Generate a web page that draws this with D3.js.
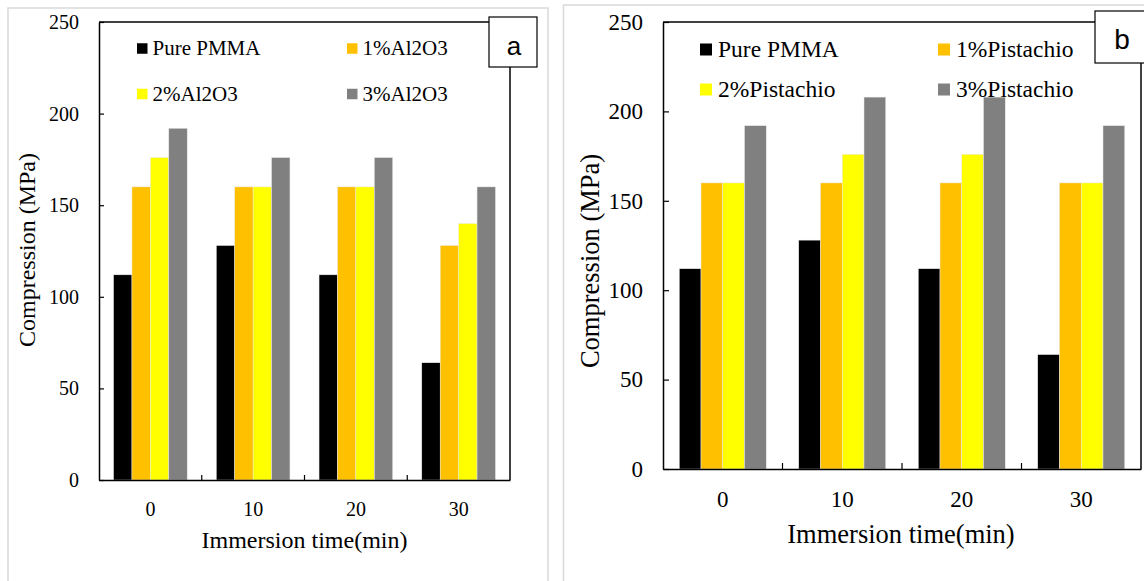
<!DOCTYPE html>
<html>
<head>
<meta charset="utf-8">
<script src="https://cdn.jsdelivr.net/npm/d3@7"></script>
<style>
  html, body { margin: 0; padding: 0; background: #ffffff; }
  svg { display: block; }
</style>
</head>
<body>
<svg id="chart" width="1144" height="581"></svg>
<script>
// ---------- data ----------
const categories = ["0", "10", "20", "30"];
const yTicks = [0, 50, 100, 150, 200, 250];
const seriesNamesA = ["Pure PMMA", "1%Al2O3", "2%Al2O3", "3%Al2O3"];
const seriesNamesB = ["Pure PMMA", "1%Pistachio", "2%Pistachio", "3%Pistachio"];
const pmmaA = [112, 128, 112, 64];
const al2o3_1 = [160, 160, 160, 128];
const al2o3_2 = [176, 160, 160, 140];
const al2o3_3 = [192, 176, 176, 160];
const pmmaB = [112, 128, 112, 64];
const pist_1 = [160, 160, 160, 160];
const pist_2 = [160, 176, 176, 160];
const pist_3 = [192, 208, 208, 192];
const seriesColors = ["#000000", "#FFC000", "#FFFF00", "#808080"];
const xTitle = "Immersion time(min)";
const yTitle = "Compression (MPa)";

const svg = d3.select("#chart");
const SERIF = "'Liberation Serif', 'Times New Roman', serif";
const SANS = "'Liberation Sans', Arial, sans-serif";

function drawPanel(cfg) {
  const g = svg.append("g");
  // outer light border
  g.append("rect")
    .attr("x", cfg.outer[0]).attr("y", cfg.outer[1])
    .attr("width", cfg.outer[2]).attr("height", cfg.outer[3])
    .attr("fill", "none").attr("stroke", "#d9d9d9").attr("stroke-width", 1.5);

  const x = d3.scaleBand().domain(categories)
    .range([cfg.left, cfg.right]).paddingInner(cfg.gap).paddingOuter(cfg.gap / 2);
  const xs = d3.scaleBand().domain(d3.range(cfg.series.length)).range([0, x.bandwidth()]);
  const y = d3.scaleLinear().domain([0, 250]).range([cfg.bottom, cfg.top]);

  // bars
  cfg.series.forEach((vals, si) => {
    g.append("g").selectAll("rect").data(vals).join("rect")
      .attr("x", (d, i) => x(categories[i]) + xs(si))
      .attr("y", d => y(d))
      .attr("width", xs.bandwidth())
      .attr("height", d => y(0) - y(d))
      .attr("fill", seriesColors[si])
      .attr("stroke", "#e8e8e8").attr("stroke-width", 0.5);
  });

  // frame: top and right
  g.append("line").attr("x1", cfg.left).attr("x2", cfg.right)
    .attr("y1", cfg.top).attr("y2", cfg.top).attr("stroke", "#000").attr("stroke-width", 1.5);
  g.append("line").attr("x1", cfg.right).attr("x2", cfg.right)
    .attr("y1", cfg.top).attr("y2", cfg.bottom).attr("stroke", "#000").attr("stroke-width", 1.5);

  // y axis
  const ya = g.append("g").attr("transform", `translate(${cfg.left},0)`)
    .call(d3.axisLeft(y).tickValues(yTicks).tickSizeInner(-cfg.tickLen).tickSizeOuter(0).tickPadding(cfg.yPad));
  ya.select(".domain").attr("stroke", "#000").attr("stroke-width", 1.5);
  ya.selectAll(".tick line").attr("stroke", "#000").attr("stroke-width", 1.2);
  ya.selectAll(".tick text").attr("font-family", SERIF).attr("font-size", cfg.tickFont).attr("fill", "#000");

  // x axis (labels at centers, ticks at boundaries)
  const xa = g.append("g").attr("transform", `translate(0,${cfg.bottom})`)
    .call(d3.axisBottom(x).tickSize(0).tickPadding(cfg.xPad));
  xa.select(".domain").attr("stroke", "#000").attr("stroke-width", 1.5);
  xa.selectAll(".tick text").attr("font-family", SERIF).attr("font-size", cfg.tickFont).attr("fill", "#000");
  const bounds = categories.slice(1).map(c => x(c) - x.step() * x.paddingInner() / 2);
  g.append("g").selectAll("line").data(bounds).join("line")
    .attr("x1", d => d).attr("x2", d => d)
    .attr("y1", cfg.bottom).attr("y2", cfg.bottom - cfg.tickLen)
    .attr("stroke", "#000").attr("stroke-width", 1.2);

  // axis titles
  g.append("text").attr("x", (cfg.left + cfg.right) / 2 + cfg.xTitleDx).attr("y", cfg.xTitleY)
    .attr("text-anchor", "middle").attr("font-family", SERIF).attr("font-size", cfg.titleFont)
    .text(xTitle);
  g.append("text").attr("transform", `translate(${cfg.yTitleX},${cfg.yTitleCy}) rotate(-90)`)
    .attr("text-anchor", "middle").attr("dominant-baseline", "central")
    .attr("font-family", SERIF).attr("font-size", cfg.titleFont)
    .text(yTitle);

  // legend
  cfg.names.forEach((name, i) => {
    const col = i % 2, row = Math.floor(i / 2);
    const sx = cfg.legX[col], cy = cfg.legY[row];
    g.append("rect").attr("x", sx).attr("y", cy - cfg.sq / 2)
      .attr("width", cfg.sq).attr("height", cfg.sq).attr("fill", seriesColors[i]);
    g.append("text").attr("x", sx + cfg.sq + cfg.legGap).attr("y", cy + cfg.legFont * 0.33)
      .attr("font-family", SERIF).attr("font-size", cfg.legFont).attr("fill", "#000")
      .text(name);
  });

  // panel label box
  g.append("rect").attr("x", cfg.box[0]).attr("y", cfg.box[1])
    .attr("width", cfg.box[2]).attr("height", cfg.box[3])
    .attr("fill", "#fff").attr("stroke", "#000").attr("stroke-width", 1.2);
  g.append("text").attr("x", cfg.box[0] + cfg.box[2] / 2 + (cfg.labelDx || 0)).attr("y", cfg.labelY)
    .attr("text-anchor", "middle").attr("font-family", SANS).attr("font-size", cfg.labelFont)
    .attr("fill", "#000").text(cfg.label);
}

drawPanel({
  series: [pmmaA, al2o3_1, al2o3_2, al2o3_3],
  names: seriesNamesA,
  outer: [8, 8, 540, 590],
  left: 99, right: 510, top: 22, bottom: 480,
  gap: 0.283, tickLen: 5, yPad: 20, xPad: 22,
  tickFont: 20, titleFont: 24, legFont: 21,
  xTitleDx: 0, xTitleY: 548, yTitleX: 27, yTitleCy: 250,
  legX: [137, 347], legY: [48.5, 94], sq: 10.5, legGap: 5,
  box: [489, 17, 48, 50], label: "a", labelY: 55, labelFont: 26, labelDx: 1
});

drawPanel({
  series: [pmmaB, pist_1, pist_2, pist_3],
  names: seriesNamesB,
  outer: [563.5, 5, 600, 600],
  left: 663, right: 1141, top: 22, bottom: 469,
  gap: 0.272, tickLen: 6, yPad: 20, xPad: 22,
  tickFont: 23, titleFont: 26.5, legFont: 23.5,
  xTitleDx: -1, xTitleY: 543, yTitleX: 590, yTitleCy: 261,
  legX: [700, 938], legY: [49.5, 89.5], sq: 12, legGap: 6,
  box: [1095, 11, 60, 52], label: "b", labelY: 49, labelFont: 28, labelDx: -3
});
</script>
</body>
</html>
